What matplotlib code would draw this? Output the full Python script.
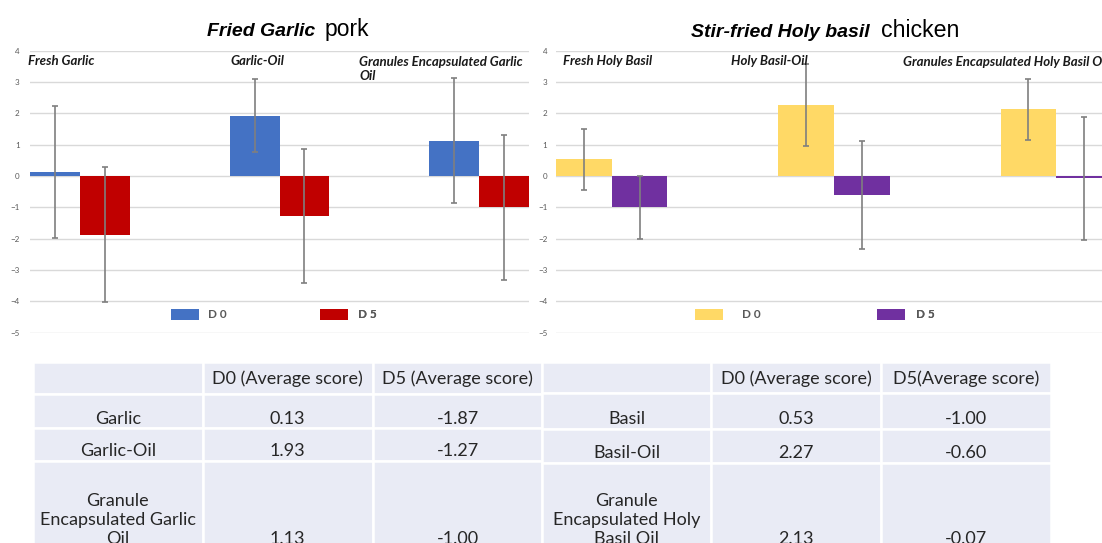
import matplotlib
matplotlib.use("Agg")
import matplotlib.pyplot as plt
from matplotlib.patches import Rectangle
import numpy as np

# ---- data -------------------------------------------------------------
garlic_categories = ["Fresh Garlic", "Garlic-Oil", "Granules Encapsulated Garlic\nOil"]
garlic_d0 = [0.13, 1.93, 1.13]
garlic_d5 = [-1.87, -1.27, -1.00]
garlic_d0_err = [2.12, 1.17, 2.00]
garlic_d5_err = [2.15, 2.13, 2.32]

basil_categories = ["Fresh Holy Basil", "Holy Basil-Oil", "Granules Encapsulated Holy Basil Oil"]
basil_d0 = [0.53, 2.27, 2.13]
basil_d5 = [-1.00, -0.60, -0.07]
basil_d0_err = [0.98, 1.30, 0.98]
basil_d5_err = [1.00, 1.73, 1.96]

series_labels = ["D 0", "D 5"]
y_ticks = [4, 3, 2, 1, 0, -1, -2, -3, -4, -5]

garlic_rows = ["Garlic", "Garlic-Oil", "Granule\nEncapsulated Garlic\nOil"]
garlic_header = ["", "D0 (Average score)", "D5 (Average score)"]
basil_rows = ["Basil", "Basil-Oil", "Granule\nEncapsulated Holy\nBasil Oil"]
basil_header = ["", "D0 (Average score)", "D5(Average score)"]

# ---- styling ----------------------------------------------------------
W, H = 1102, 543
DPI = 100
GRID = "#D9D9D9"
TICK = "#595959"
ERR = "#7F7F7F"
TEXT_FONT = ["Lato", "DejaVu Sans"]
TITLE_FONT = ["Liberation Sans", "DejaVu Sans"]

fig = plt.figure(figsize=(W / DPI, H / DPI), dpi=DPI)
fig.patch.set_facecolor("white")


def fx(px):
    return px / W


def fy(py):
    return 1 - py / H


def bar_panel(left_px, width_px, cats, d0, d5, e0, e5, colors, label_pos,
              tick_pad, legend_layout):
    top_px, bot_px = 50.7, 332.7
    ax = fig.add_axes([fx(left_px), fy(bot_px), width_px / W, (bot_px - top_px) / H])
    x = np.arange(len(cats))
    bw = 0.25
    b0 = ax.bar(x - bw / 2, d0, bw, color=colors[0], zorder=2, label=series_labels[0])
    b5 = ax.bar(x + bw / 2, d5, bw, color=colors[1], zorder=2, label=series_labels[1])
    ax.errorbar(x - bw / 2, d0, yerr=e0, fmt="none", ecolor=ERR, elinewidth=1.2,
                capsize=2.5, capthick=1.2, zorder=3)
    ax.errorbar(x + bw / 2, d5, yerr=e5, fmt="none", ecolor=ERR, elinewidth=1.2,
                capsize=2.5, capthick=1.2, zorder=3)
    ax.set_xlim(-0.25, 2.25)
    ax.set_ylim(-5, 4)
    ax.set_yticks(y_ticks)
    ax.set_xticks([])
    ax.grid(axis="y", color=GRID, linewidth=1.0, zorder=0)
    ax.tick_params(axis="y", length=0, pad=tick_pad, labelsize=5.8, labelcolor=TICK)
    for lbl in ax.get_yticklabels():
        lbl.set_fontfamily(TEXT_FONT)
    for s in ax.spines.values():
        s.set_visible(False)
    ax.patch.set_alpha(0)

    for cat, (cx, cy) in zip(cats, label_pos):
        ax.text(cx, cy, cat, fontsize=9.5, fontweight="bold", fontstyle="italic",
                family=TEXT_FONT, color="#1a1a1a", ha="left", va="center",
                linespacing=1.25, zorder=5)

    # one legend entry per series, positioned independently
    for handle, (lx, pad) in zip((b0, b5), legend_layout):
        leg = ax.legend(handles=[handle], loc="center left",
                        bbox_to_anchor=(fx(lx), fy(314.5)),
                        bbox_transform=fig.transFigure, frameon=False,
                        borderpad=0, borderaxespad=0,
                        handlelength=2.37, handleheight=1.1, handletextpad=pad,
                        prop={"family": TEXT_FONT, "weight": "bold", "size": 8.5})
        for t in leg.get_texts():
            t.set_color(TICK)
        ax.add_artist(leg)
    return ax


# Fried Garlic pork panel
bar_panel(30, 499, garlic_categories, garlic_d0, garlic_d5, garlic_d0_err, garlic_d5_err,
          ("#4472C4", "#C00000"),
          [(-0.26, 3.66), (0.752, 3.68), (1.40, 3.42)],
          tick_pad=7.5, legend_layout=[(171, 0.76), (320, 0.85)])

# Stir-fried Holy basil chicken panel (extends past the right edge)
bar_panel(556.3, 555.5, basil_categories, basil_d0, basil_d5, basil_d0_err, basil_d5_err,
          ("#FFD966", "#7030A0"),
          [(-0.22, 3.66), (0.536, 3.66), (1.31, 3.63)],
          tick_pad=6.5, legend_layout=[(695, 1.6), (877, 0.93)])

# ---- titles -----------------------------------------------------------
fig.text(fx(207), fy(36), "Fried Garlic", fontsize=14, fontweight="bold",
         fontstyle="italic", family=TITLE_FONT, va="baseline", ha="left")
fig.text(fx(325), fy(36), "pork", fontsize=16.5, family=TITLE_FONT,
         va="baseline", ha="left")
fig.text(fx(691), fy(36.7), "Stir-fried Holy basil", fontsize=14, fontweight="bold",
         fontstyle="italic", family=TITLE_FONT, va="baseline", ha="left")
fig.text(fx(881), fy(36.7), "chicken", fontsize=16.7, family=TITLE_FONT,
         va="baseline", ha="left")

# ---- summary tables ---------------------------------------------------
tab = fig.add_axes([0, 0, 1, 1])
tab.set_xlim(0, W)
tab.set_ylim(H, 0)
tab.axis("off")
CELL = "#E9EBF5"
CELL_TXT = "#262626"


def draw_table(col_edges, row_edges, header, rows, d0, d5):
    body = [[r, f"{a:.2f}", f"{b:.2f}"] for r, a, b in zip(rows, d0, d5)]
    grid = [header] + body
    for ri in range(len(grid)):
        y0, y1 = row_edges[ri], row_edges[ri + 1]
        for ci in range(3):
            x0, x1 = col_edges[ci], col_edges[ci + 1]
            tab.add_patch(Rectangle((x0, y0), x1 - x0, y1 - y0, facecolor=CELL,
                                    edgecolor="white", linewidth=1.8, zorder=1))
            txt = grid[ri][ci]
            if not txt:
                continue
            if ri == 0:
                tab.text((x0 + x1) / 2, (y0 + y1) / 2 + 1, txt, ha="center",
                         va="center", fontsize=13, family=TEXT_FONT,
                         color=CELL_TXT, zorder=2)
            else:
                tab.text((x0 + x1) / 2, y1 - 4.5, txt, ha="center", va="baseline",
                         fontsize=13, family=TEXT_FONT, color=CELL_TXT,
                         linespacing=1.23, zorder=2)


draw_table([33, 202.5, 373, 542], [362, 394.3, 428.3, 460.5, 548],
           garlic_header, garlic_rows, garlic_d0, garlic_d5)
draw_table([542, 711, 881, 1051], [362, 392.7, 429, 463, 548],
           basil_header, basil_rows, basil_d0, basil_d5)

fig.savefig("out.png", dpi=DPI)
